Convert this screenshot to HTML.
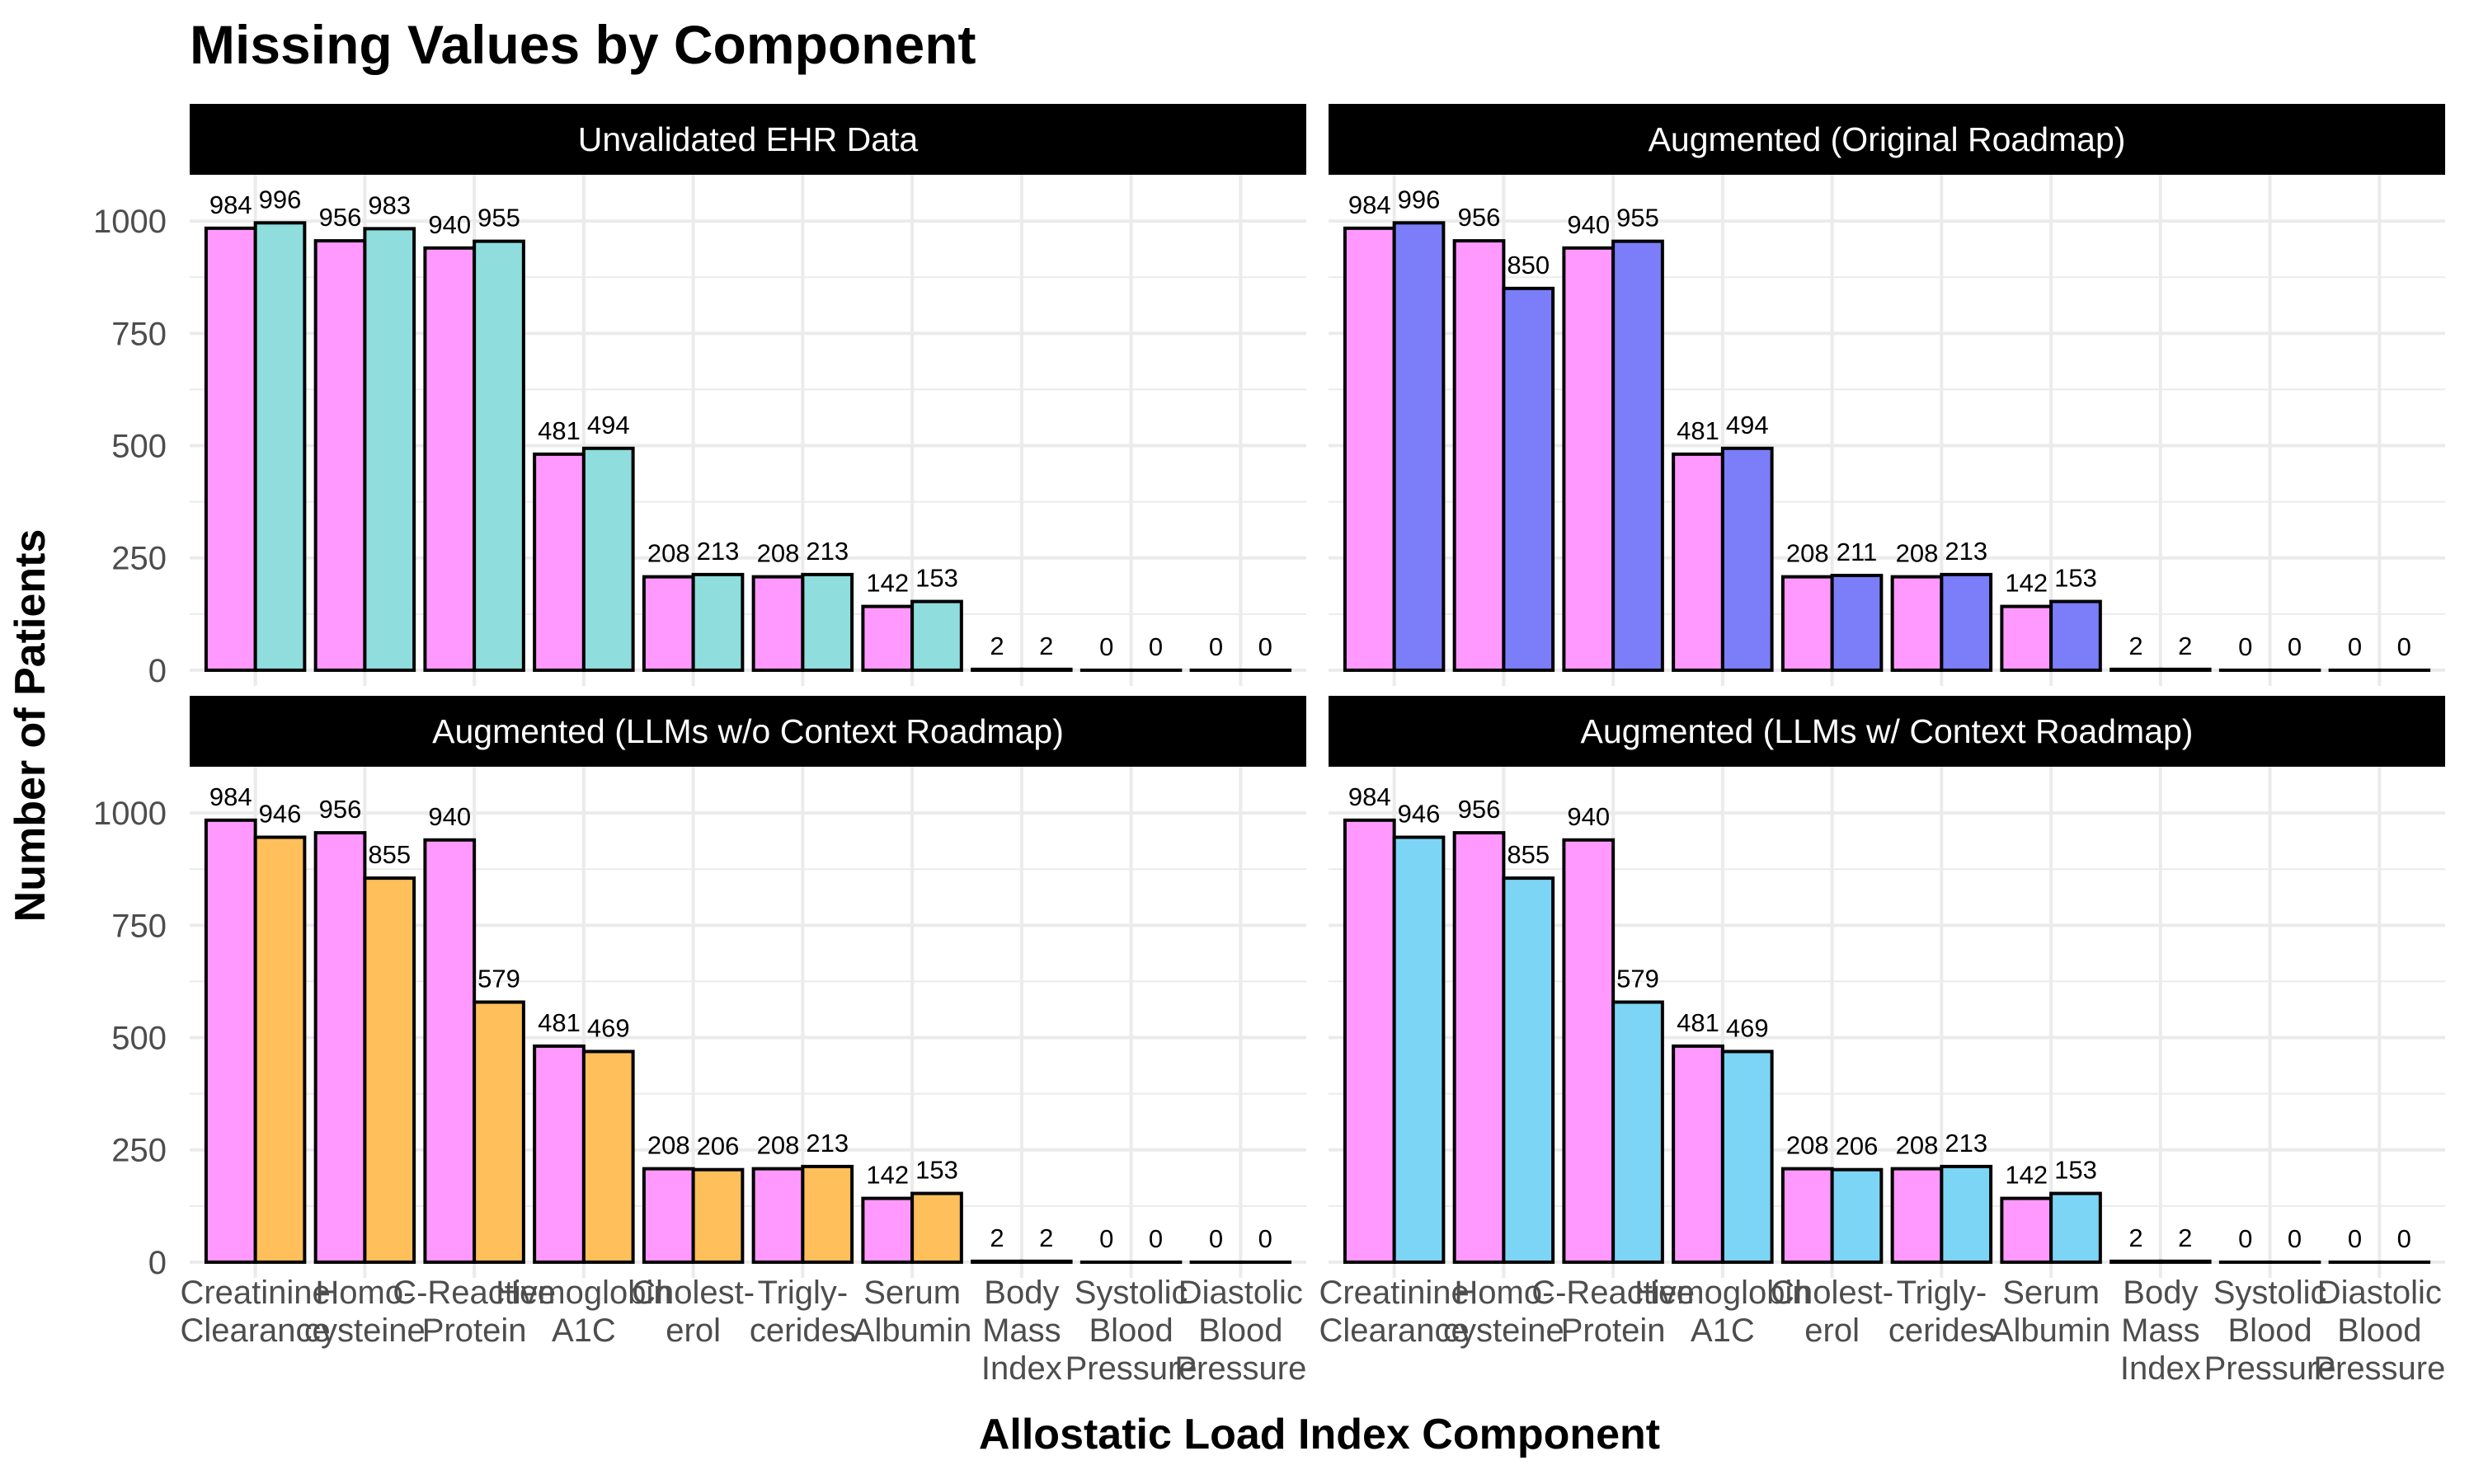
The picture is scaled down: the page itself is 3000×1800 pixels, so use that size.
<!DOCTYPE html>
<html><head><meta charset="utf-8"><style>
body{margin:0;background:#fff}
svg{display:block;font-family:"Liberation Sans",Arial,sans-serif}
</style></head><body>
<svg id="chart" width="3000" height="1800" viewBox="0 0 3000 1800">
<text x="230" y="77" font-size="66" font-weight="bold" fill="#000">Missing Values by Component</text>
<text transform="translate(54,880) rotate(-90)" text-anchor="middle" font-size="52" font-weight="bold">Number of Patients</text>
<text x="1600" y="1757" text-anchor="middle" font-size="52" font-weight="bold">Allostatic Load Index Component</text>
<g id="panels"></g>
</svg>
<script>
const categories = [["Creatinine","Clearance"],["Homo-","cysteine"],["C-Reactive","Protein"],["Hemoglobin","A1C"],["Cholest-","erol"],["Trigly-","cerides"],["Serum","Albumin"],["Body","Mass","Index"],["Systolic","Blood","Pressure"],["Diastolic","Blood","Pressure"]];
const panelTitles = ["Unvalidated EHR Data","Augmented (Original Roadmap)","Augmented (LLMs w/o Context Roadmap)","Augmented (LLMs w/ Context Roadmap)"];
const baseline = [984,956,940,481,208,208,142,2,0,0];
const ehrValues = [996,983,955,494,213,213,153,2,0,0];
const originalValues = [996,850,955,494,211,213,153,2,0,0];
const noContextValues = [946,855,579,469,206,213,153,2,0,0];
const contextValues = [946,855,579,469,206,213,153,2,0,0];
const yTicks = [0,250,500,750,1000];
const comparisons = [ehrValues, originalValues, noContextValues, contextValues];
const fills = ["#8FDDDD","#7B7EF8","#FFBF5A","#7DD5F5"];

const NS="http://www.w3.org/2000/svg";
const g=document.getElementById('panels');
function mk(tag,attrs,parent){const e=document.createElementNS(NS,tag);for(const k in attrs)e.setAttribute(k,attrs[k]);(parent||g).appendChild(e);return e;}
const lefts=[230,1611], tops=[126,844];
const PW=1354, stripH=86, plotH=620;
const yMin=-35, yMax=1103;
panelTitles.forEach((title,p)=>{
  const px=lefts[p%2], st=tops[Math.floor(p/2)], py=st+stripH;
  const pg=mk('g',{});
  
  
  const yS=v=>py+plotH-(v-yMin)/(yMax-yMin)*plotH;
  const step=PW/10.2;
  const xS=i=>px+step*(0.6+i);
  for(let k=0;k<yTicks.length-1;k++){const v=(yTicks[k]+yTicks[k+1])/2;mk('line',{x1:px,x2:px+PW,y1:yS(v),y2:yS(v),stroke:'#ebebeb','stroke-width':2},pg);}
  yTicks.forEach(v=>mk('line',{x1:px,x2:px+PW,y1:yS(v),y2:yS(v),stroke:'#ebebeb','stroke-width':4},pg));
  categories.forEach((c,i)=>mk('line',{x1:xS(i),x2:xS(i),y1:py,y2:py+plotH,stroke:'#ebebeb','stroke-width':4},pg));
  const sr=mk('rect',{x:px,y:st,width:PW,height:stripH,fill:'#000'},pg);
  
  
  const stx=mk('text',{x:px+PW/2,y:st+stripH/2+14,'text-anchor':'middle','font-size':41,fill:'#fff'},pg);
  stx.textContent=title;
  
  
  if(p%2===0){yTicks.forEach(v=>{const t=mk('text',{x:px-28,y:yS(v)+14,'text-anchor':'end','font-size':40,fill:'#4d4d4d'},pg);t.textContent=v;
    
    });}
  const bw=step*0.45;
  const series=[baseline,comparisons[p]], cols=['#FF99FF',fills[p]];
  categories.forEach((c,i)=>{
    series.forEach((arr,s)=>{
      const v=arr[i], x0=xS(i)-bw+s*bw;
      const r=mk('rect',{x:x0,y:yS(v),width:bw,height:Math.max(yS(0)-yS(v),0.01),fill:cols[s],stroke:'#000','stroke-width':4},pg);
      
      
      const t=mk('text',{x:x0+bw/2,y:yS(v)-18,'text-anchor':'middle','font-size':31,fill:'#000'},pg);
      t.textContent=v;
      
      
    });
    if(p>=2){
      const t=mk('text',{x:xS(i),'text-anchor':'middle','font-size':40,fill:'#4d4d4d'},pg);
      
      
      c.forEach((ln,j)=>{const ts=mk('tspan',{x:xS(i),y:1581+j*46},t);ts.textContent=ln;});
    }
  });
});
</script>
</body></html>
